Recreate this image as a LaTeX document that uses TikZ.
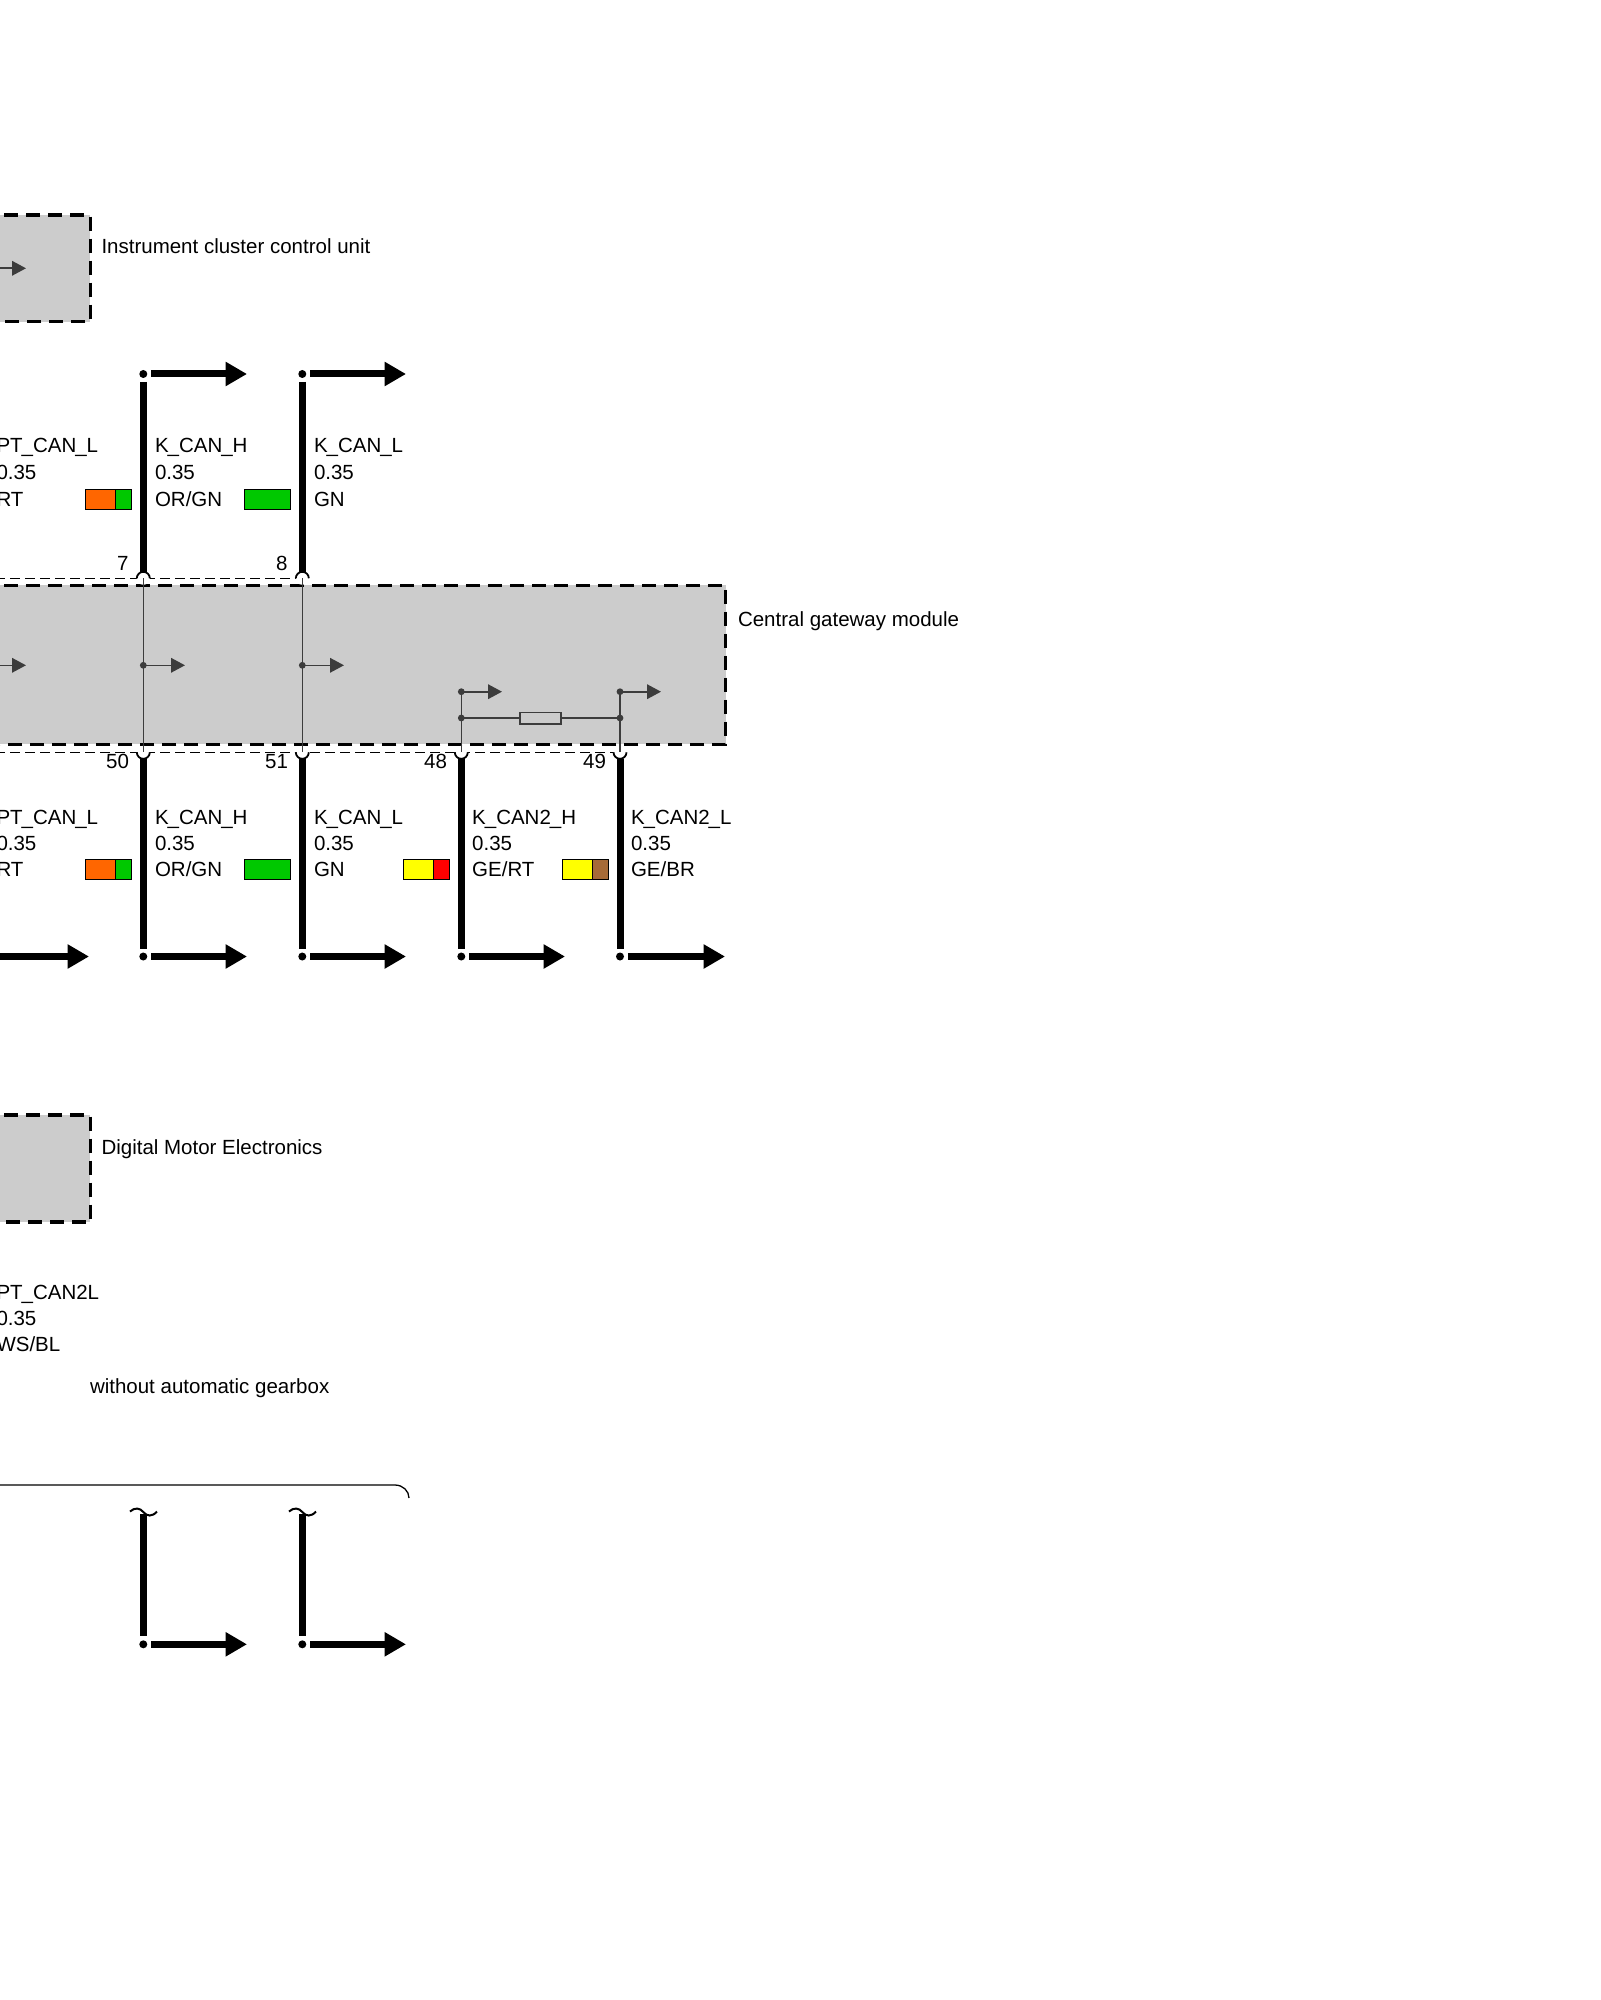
\documentclass[tikz,border=0pt]{standalone}
\usepackage{fontspec}
\setmainfont{Liberation Sans}
\usetikzlibrary{arrows.meta}
\definecolor{boxgray}{HTML}{CCCCCC}
\definecolor{inner}{HTML}{3C3C3C}
\definecolor{wOR}{HTML}{FF6600}
\definecolor{wGN}{HTML}{00C800}
\definecolor{wGE}{HTML}{FFFF00}
\definecolor{wRT}{HTML}{FF0000}
\definecolor{wBR}{HTML}{A66B38}
\newcommand{\us}{\kern-0.05em\_}
\tikzset{
  lbl/.style={inner sep=0pt,outer sep=0pt,anchor=base west,font=\fontsize{10.25pt}{12pt}\selectfont,text=black},
  pinno/.style={inner sep=0pt,outer sep=0pt,anchor=base east,font=\fontsize{10.25pt}{12pt}\selectfont,text=black},
  modbox/.style={draw=black,line width=1.75pt,dash pattern=on 7pt off 4pt},
  shield/.style={draw=black,line width=0.7pt,dash pattern=on 5pt off 2.5pt},
  wire/.style={draw=black,line width=3.5pt},
  wirearrow/.style={wire,-{Triangle[length=10.7pt,width=11.5pt]}},
  wdot/.style={circle,fill=black,inner sep=0pt,minimum size=4pt,outer sep=1.95pt},
  pinhole/.style={circle,fill=white,inner sep=0pt,minimum size=6.5pt,outer sep=0pt},
  pinarc/.style={draw=black,line width=0.9pt},
  iwire/.style={draw=inner,line width=0.8pt},
  iarrow/.style={iwire,-{Triangle[length=7pt,width=7.3pt]}},
  idot/.style={circle,fill=inner,inner sep=0pt,minimum size=3.4pt,outer sep=0pt},
  swatchpart/.style={draw=black,line width=0.55pt,inner sep=0pt,outer sep=0pt,anchor=north west,minimum height=10pt},
  brace/.style={draw=black,line width=0.65pt},
  tild/.style={draw=black,line width=1pt},
}
\newcommand{\swatchtwo}[5]{% name, x, y, left colour, right colour
  \node[swatchpart,fill=#4,minimum width=15pt] (#1a) at (#2,#3) {};
  \node[swatchpart,fill=#5,minimum width=8pt] (#1b) at (#2+30,#3) {};
}
\newcommand{\swatchone}[4]{%
  \node[swatchpart,fill=#4,minimum width=23pt] (#1a) at (#2,#3) {};
}
\newcommand{\wirelabel}[6]{% name, x, first baseline, l1, l2, l3
  \node[lbl] (#1a) at (#2,#3) {#4};
  \node[lbl] (#1b) at (#2,#3+26) {#5};
  \node[lbl] (#1c) at (#2,#3+52) {#6};
}
\newcommand{\wirelabelU}[6]{% as above, with the spacing of the upper row
  \node[lbl] (#1a) at (#2,#3) {#4};
  \node[lbl] (#1b) at (#2,#3+27.5) {#5};
  \node[lbl] (#1c) at (#2,#3+54) {#6};
}
\newcommand{\toppin}[3]{% name, x, y
  \node[pinhole] (#1) at (#2,#3) {};
  \draw[pinarc] (#2-6.5,#3) arc[start angle=180,end angle=0,radius=3.25pt];
}
\newcommand{\botpin}[3]{%
  \node[pinhole] (#1) at (#2,#3) {};
  \draw[pinarc] (#2-6.5,#3) arc[start angle=180,end angle=360,radius=3.25pt];
}
\begin{document}
\begin{tikzpicture}[x=0.5pt,y=-0.5pt]
\useasboundingbox (0,0) rectangle (1600,2000);
\clip (0,0) rectangle (1600,2000);

% module boxes
\fill[boxgray] (-40,215) rectangle (90.3,321.7);
\draw[modbox] (-40,215) -- (90.3,215) -- (90.3,321.7) -- (-40,321.7);
\fill[boxgray] (-40,1119-4) rectangle (90.3,1222);
\draw[modbox] (-40,1115) -- (90.3,1115) -- (90.3,1222) -- (-40,1222);
\fill[boxgray] (-40,585.3) rectangle (725.7,744.3);
\draw[modbox] (-40,585.3) -- (725.7,585.3) -- (725.7,744.3) -- (-40,744.3);

% module names
\node[lbl] (ic) at (101.5,254) {Instrument cluster control unit};
\node[lbl] (cg) at (738,626) {Central gateway module};
\node[lbl] (dm) at (101.5,1154) {Digital Motor Electronics};

% connector shields
\coordinate (sa) at (-20,578.3);
\coordinate (sb) at (303,578.3);
\coordinate (sc) at (-20,752.3);
\coordinate (sd) at (620,752.3);
\draw[shield] (sa) -- (sb);
\draw[shield] (sc) -- (sd);

% top pins
\toppin{p7}{143.3}{578.3}
\toppin{p8}{302.3}{578.3}
% bottom pins
\botpin{p50}{143.3}{752.3}
\botpin{p51}{302.3}{752.3}
\botpin{p48}{461.3}{752.3}
\botpin{p49}{620}{752.3}

% inner wiring
\coordinate (ia0s) at (-30,268.3);
\coordinate (ia0e) at (26,268.3);
\draw[iarrow] (ia0s) -- (ia0e);
\coordinate (ib0s) at (-30,665.3);
\coordinate (ib0e) at (26,665.3);
\draw[iarrow] (ib0s) -- (ib0e);

\draw[iwire] (p7.center) -- (p50.center);
\draw[iwire] (p8.center) -- (p51.center);
\node[idot] (i1) at (143.3,665.3) {};
\node[idot] (i2) at (302.3,665.3) {};
\coordinate (i1e) at (185,665.3);
\coordinate (i2e) at (344,665.3);
\draw[iarrow] (i1.center) -- (i1e);
\draw[iarrow] (i2.center) -- (i2e);

\node[idot] (j1) at (461.3,691.7) {};
\node[idot] (j2) at (620,691.7) {};
\node[idot] (k1) at (461.3,718) {};
\node[idot] (k2) at (620,718) {};
\coordinate (j1e) at (502,691.7);
\coordinate (j2e) at (661,691.7);
\draw[iarrow] (j1.center) -- (j1e);
\draw[iarrow] (j2.center) -- (j2e);
\draw[iwire] (j1.center) -- (p48.center);
\draw[iwire] (j2.center) -- (p49.center);
\node[draw=inner,line width=0.8pt,fill=boxgray,inner sep=0pt,outer sep=0pt,minimum width=20.5pt,minimum height=5.7pt] (res) at (540.5,718) {};
\draw[iwire] (k1.center) -- (res);
\draw[iwire] (res) -- (k2.center);

% heavy wires, upper row
\node[wdot] (t7) at (143.3,374) {};
\node[wdot] (t8) at (302.3,374) {};
\coordinate (t7e) at (247,374);
\coordinate (t8e) at (406,374);
\draw[wirearrow] (t7) -- (t7e);
\draw[wirearrow] (t8) -- (t8e);
\coordinate (q7) at (143.3,572);
\coordinate (q8) at (302.3,572);
\draw[wire] (t7) -- (q7);
\draw[wire] (t8) -- (q8);

% heavy wires, lower row
\coordinate (q50) at (143.3,758.6);
\coordinate (q51) at (302.3,758.6);
\coordinate (q48) at (461.3,758.6);
\coordinate (q49) at (620,758.6);
\node[wdot] (b50) at (143.3,956.5) {};
\node[wdot] (b51) at (302.3,956.5) {};
\node[wdot] (b48) at (461.3,956.5) {};
\node[wdot] (b49) at (620,956.5) {};
\draw[wire] (q50) -- (b50);
\draw[wire] (q51) -- (b51);
\draw[wire] (q48) -- (b48);
\draw[wire] (q49) -- (b49);
\coordinate (b50e) at (247,956.5);
\coordinate (b51e) at (406,956.5);
\coordinate (b48e) at (565,956.5);
\coordinate (b49e) at (725,956.5);
\coordinate (b0s) at (-20,956.5);
\coordinate (b0e) at (89,956.5);
\draw[wirearrow] (b50) -- (b50e);
\draw[wirearrow] (b51) -- (b51e);
\draw[wirearrow] (b48) -- (b48e);
\draw[wirearrow] (b49) -- (b49e);
\draw[wirearrow] (b0s) -- (b0e);

% pin numbers
\node[pinno] (n7) at (128.5,570.7) {7};
\node[pinno] (n8) at (287.5,570.7) {8};
\node[pinno] (n50) at (129,768.5) {50};
\node[pinno] (n51) at (288,768.5) {51};
\node[pinno] (n48) at (447,768.5) {48};
\node[pinno] (n49) at (606,768.5) {49};

% upper labels
\wirelabelU{ua}{-3.5}{452}{PT\us CAN\us L}{0.35}{RT}
\wirelabelU{ub}{155}{452}{K\us CAN\us H}{0.35}{OR/GN}
\wirelabelU{uc}{314}{452}{K\us CAN\us L}{0.35}{GN}
% lower labels
\wirelabel{la}{-3.5}{824}{PT\us CAN\us L}{0.35}{RT}
\wirelabel{lb}{155}{824}{K\us CAN\us H}{0.35}{OR/GN}
\wirelabel{lc}{314}{824}{K\us CAN\us L}{0.35}{GN}
\wirelabel{ld}{472.2}{824}{K\us CAN2\us H}{0.35}{GE/RT}
\wirelabel{le}{631}{824}{K\us CAN2\us L}{0.35}{GE/BR}

% colour swatches
\swatchtwo{su1}{85.5}{489.5}{wOR}{wGN}
\swatchone{su2}{244.5}{489.5}{wGN}
\swatchtwo{sl1}{85.5}{859.5}{wOR}{wGN}
\swatchone{sl2}{244.5}{859.5}{wGN}
\swatchtwo{sl3}{403.5}{859.5}{wGE}{wRT}
\swatchtwo{sl4}{562.5}{859.5}{wGE}{wBR}

% lowest group
\wirelabel{ba}{-3.5}{1299}{PT\us CAN2L}{0.35}{WS/BL}
\node[lbl] (wag) at (90,1393) {without automatic gearbox};

\coordinate (bra) at (-20,1485);
\coordinate (brb) at (395,1485);
\coordinate (brc) at (409,1498);
\draw[brace] (bra) -- (brb) .. controls (403,1485) and (409,1491) .. (brc);

\coordinate (w1t) at (143.3,1514);
\coordinate (w2t) at (302.3,1514);
\node[wdot] (w1b) at (143.3,1644.3) {};
\node[wdot] (w2b) at (302.3,1644.3) {};
\coordinate (w1e) at (247,1644.3);
\coordinate (w2e) at (406,1644.3);
\draw[wire] (w1t) -- (w1b);
\draw[wire] (w2t) -- (w2b);
\draw[wirearrow] (w1b) -- (w1e);
\draw[wirearrow] (w2b) -- (w2e);
\draw[tild] (130,1511.5) .. controls (135,1507) and (140,1508) .. (143.3,1512) .. controls (147,1516.5) and (152,1517) .. (157,1511.5);
\draw[tild] (289,1511.5) .. controls (294,1507) and (299,1508) .. (302.3,1512) .. controls (306,1516.5) and (311,1517) .. (316,1511.5);
\end{tikzpicture}
\end{document}
